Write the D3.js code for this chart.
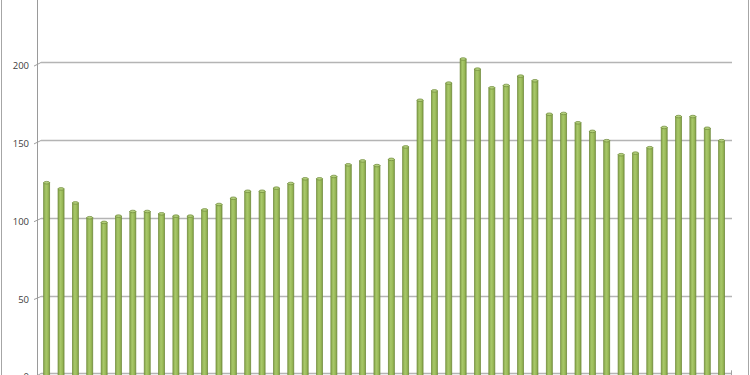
<!DOCTYPE html>
<html>
<head>
<meta charset="utf-8">
<script src="https://cdn.jsdelivr.net/npm/d3@7"></script>
<style>
  body { margin: 0; background: #fff; }
  svg { display: block; }
</style>
</head>
<body>
<div id="chart"></div>
<script>
// Data (x labels are cut off in the reference)
const categories = d3.range(1, 49).map(String);
const values = [122.5, 118.5, 109.5, 100, 97, 101, 104, 104, 102.5, 101,
                101, 105, 108.5, 112.5, 117, 117, 119, 122, 125, 125,
                126.5, 134, 136.5, 133.5, 137.5, 145.5, 175.5, 181.5, 186.5, 202,
                195.5, 183.5, 185, 191, 188, 166.5, 167, 161, 155.5, 149.5,
                140.5, 141.5, 145, 158, 165, 165, 157.5, 149.5];
const yTicks = [0, 50, 100, 150, 200];

const width = 750;
const height = 375;

// Fake 3D: back wall sits a few px right of and above the front axis
const depthX = 4;
const depthY = 3.5;

const svg = d3.select("#chart")
    .append("svg")
    .attr("width", width)
    .attr("height", height);

const defs = svg.append("defs");
const grad = defs.append("linearGradient")
    .attr("id", "cyl")
    .attr("x1", "0%").attr("x2", "100%")
    .attr("y1", "0%").attr("y2", "0%");
grad.append("stop").attr("offset", "0%").attr("stop-color", "#86a54a");
grad.append("stop").attr("offset", "40%").attr("stop-color", "#a8c86a");
grad.append("stop").attr("offset", "70%").attr("stop-color", "#9bbb59");
grad.append("stop").attr("offset", "100%").attr("stop-color", "#7f9c45");

const y = d3.scaleLinear()
    .domain([0, 250])
    .range([373.3, 373.3 - 250 * 1.556]);

const x = d3.scaleBand()
    .domain(categories)
    .range([39.5, 728.8])
    .paddingInner(0.58)
    .paddingOuter(0.29);

// Outer frame
svg.append("line")
    .attr("x1", 1.5).attr("x2", 1.5)
    .attr("y1", 0).attr("y2", height)
    .attr("stroke", "#a6a6a6");
svg.append("line")
    .attr("x1", 748.5).attr("x2", 748.5)
    .attr("y1", 0).attr("y2", height)
    .attr("stroke", "#a6a6a6");

// Gridlines on the back wall
const grid = svg.append("g");
grid.selectAll("line.grid")
    .data(yTicks)
    .enter()
    .append("line")
    .attr("class", "grid")
    .attr("x1", 37 + depthX)
    .attr("x2", 732)
    .attr("y1", d => Math.round(y(d)) + 0.5)
    .attr("y2", d => Math.round(y(d)) + 0.5)
    .attr("stroke", "#b4b4b4")
    .attr("stroke-width", 1.3);

// Side wall joints (short diagonals from front axis to back wall)
grid.selectAll("line.joint")
    .data(yTicks)
    .enter()
    .append("line")
    .attr("class", "joint")
    .attr("x1", 34)
    .attr("x2", 37 + depthX)
    .attr("y1", d => y(d) + depthY + 0.5)
    .attr("y2", d => Math.round(y(d)) + 0.5)
    .attr("stroke", "#a0a0a0");

// Right end of the floor
svg.append("line")
    .attr("x1", 731.5).attr("x2", 731.5)
    .attr("y1", y(0) - 3).attr("y2", y(0) + 2)
    .attr("stroke", "#a0a0a0");

// Front y axis
svg.append("line")
    .attr("x1", 37.5).attr("x2", 37.5)
    .attr("y1", 0).attr("y2", height)
    .attr("stroke", "#9a9a9a");

// Tick labels
svg.selectAll("text.ytick")
    .data(yTicks)
    .enter()
    .append("text")
    .attr("class", "ytick")
    .attr("x", 29)
    .attr("y", d => y(d) + depthY + 3.5)
    .attr("text-anchor", "end")
    .attr("font-family", "'Open Sans', 'Liberation Sans', sans-serif")
    .attr("font-size", 9.5)
    .attr("fill", "#404040")
    .text(d => d);

// Cylinder bars
const bars = svg.append("g");
bars.selectAll("rect")
    .data(values)
    .enter()
    .append("rect")
    .attr("x", (d, i) => x(categories[i]))
    .attr("y", d => y(d))
    .attr("width", x.bandwidth())
    .attr("height", d => y(0) + 4 - y(d))
    .attr("fill", "url(#cyl)")
    .attr("stroke", "#6f8a3a")
    .attr("stroke-width", 0.7);

bars.selectAll("ellipse")
    .data(values)
    .enter()
    .append("ellipse")
    .attr("cx", (d, i) => x(categories[i]) + x.bandwidth() / 2)
    .attr("cy", d => y(d))
    .attr("rx", x.bandwidth() / 2)
    .attr("ry", 1.3)
    .attr("fill", "#b3cf7c")
    .attr("stroke", "#6f8a3a")
    .attr("stroke-width", 0.7);
</script>
</body>
</html>
